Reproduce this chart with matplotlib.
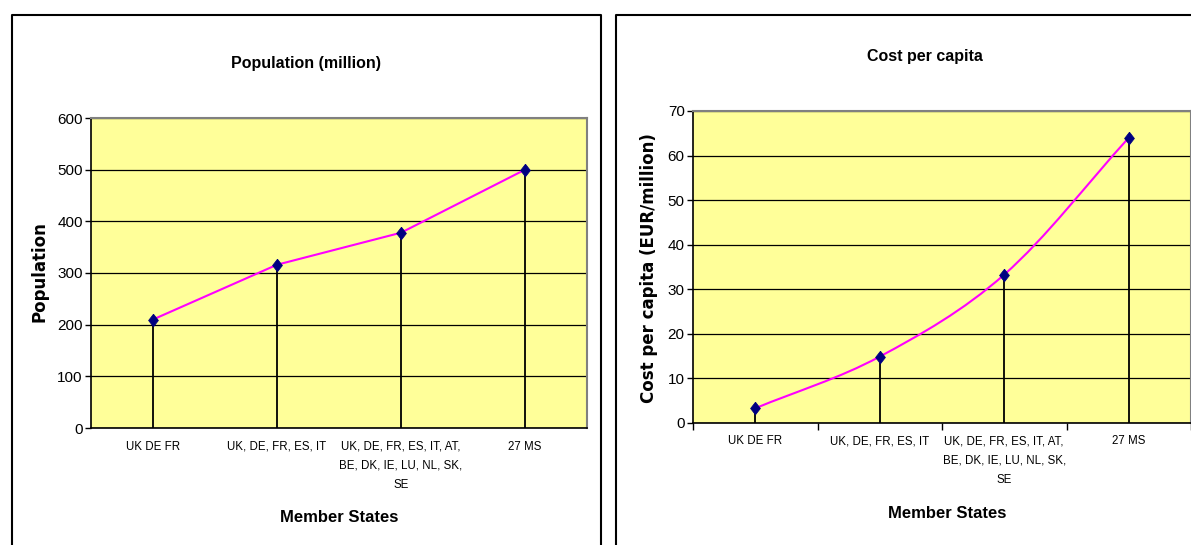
import matplotlib
matplotlib.use('Agg')
import matplotlib.pyplot as plt
from matplotlib.path import Path
from matplotlib.patches import PathPatch
from matplotlib.lines import Line2D
import numpy as np

W, H = 1191, 545

categories = ['UK DE FR', 'UK, DE, FR, ES, IT',
              'UK, DE, FR, ES, IT, AT,\nBE, DK, IE, LU, NL, SK,\nSE', '27 MS']
population = [210, 316, 378, 500]
cost_per_capita = [3.3, 14.9, 33.3, 64.0]
pop_ticks = [0, 100, 200, 300, 400, 500, 600]
cost_ticks = [0, 10, 20, 30, 40, 50, 60, 70]

NARROW = ['Liberation Sans Narrow', 'Liberation Sans', 'DejaVu Sans']
WIDE = ['DejaVu Sans']
YELLOW = '#FFFF99'
MAGENTA = '#FF00FF'
NAVY = '#000080'
DIAMOND = [(0, 1), (0.78, 0), (0, -1), (-0.78, 0), (0, 1)]


def fx(px):
    return px / W


def fy(py):
    return 1 - py / H


def smooth_path(xs, ys):
    # Excel-like smoothed line: cubic bezier through the points
    pts = np.column_stack([xs, ys]).astype(float)
    n = len(pts)
    tang = np.zeros_like(pts)
    for i in range(n):
        prev = pts[max(i - 1, 0)]
        nxt = pts[min(i + 1, n - 1)]
        tang[i] = (nxt - prev) / (2 if 0 < i < n - 1 else 1)
    verts = [pts[0]]
    codes = [Path.MOVETO]
    for i in range(n - 1):
        verts += [pts[i] + tang[i] / 3, pts[i + 1] - tang[i + 1] / 3, pts[i + 1]]
        codes += [Path.CURVE4] * 3
    return Path(verts, codes)


def style_axes(ax, ticks, boundary_ticks):
    ax.set_facecolor(YELLOW)
    ax.set_xlim(-0.5, len(categories) - 0.5)
    ax.set_ylim(ticks[0], ticks[-1])
    ax.set_yticks(ticks)
    ax.set_yticklabels([str(t) for t in ticks], family=NARROW, fontsize=11)
    ax.set_xticks(range(len(categories)))
    ax.set_xticklabels(categories, family=NARROW, fontsize=8.3, linespacing=1.8)
    ax.tick_params(axis='x', length=0, pad=9)
    ax.tick_params(axis='y', length=4, width=1, pad=2, direction='out')
    if boundary_ticks:
        ax.set_xticks(np.arange(-0.5, len(categories), 1.0), minor=True)
        ax.tick_params(axis='x', which='minor', length=5, width=1, direction='out')
    ax.yaxis.grid(True, color='black', linewidth=0.9)
    ax.set_axisbelow(True)
    for side in ['left', 'bottom']:
        ax.spines[side].set_color('black')
        ax.spines[side].set_linewidth(1.2)
    for side in ['top', 'right']:
        ax.spines[side].set_color('#808080')
        ax.spines[side].set_linewidth(1.5)


fig = plt.figure(figsize=(W / 100, H / 100), dpi=100)

# chart frames
fig.add_artist(Line2D([fx(12), fx(12), fx(601), fx(601)], [0, fy(15), fy(15), 0],
                      color='black', linewidth=1.5))
fig.add_artist(Line2D([fx(616), fx(616), 1.0], [0, fy(15), fy(15)],
                      color='black', linewidth=1.5))

x = np.arange(len(categories))

# left chart: population
ax1 = fig.add_axes([fx(91), fy(428), fx(587 - 91), (428 - 118) / H])
style_axes(ax1, pop_ticks, False)
ax1.vlines(x, 0, population, color='black', linewidth=1.3, zorder=3)
ax1.plot(x, population, color=MAGENTA, linewidth=1.5, zorder=4)
ax1.plot(x, population, linestyle='none', marker=DIAMOND, markersize=9,
         markeredgewidth=0.6, color=NAVY, zorder=5)

fig.text(fx(306), fy(63), 'Population (million)', ha='center', va='center',
         family=NARROW, fontsize=11.5, fontweight='bold')
fig.text(fx(40), fy(272), 'Population', ha='center', va='center', rotation=90,
         family=WIDE, fontsize=12, fontweight='bold')
fig.text(fx(339), fy(517), 'Member States', ha='center', va='center',
         family=NARROW, fontsize=12, fontweight='bold')

# right chart: cost per capita
ax2 = fig.add_axes([fx(693), fy(423), fx(498), (423 - 111) / H])
style_axes(ax2, cost_ticks, True)
ax2.vlines(x, 0, cost_per_capita, color='black', linewidth=1.3, zorder=3)
ax2.add_patch(PathPatch(smooth_path(x, cost_per_capita), facecolor='none',
                        edgecolor=MAGENTA, linewidth=1.5, zorder=4))
ax2.plot(x, cost_per_capita, linestyle='none', marker=DIAMOND, markersize=9,
         markeredgewidth=0.6, color=NAVY, zorder=5)

fig.text(fx(925), fy(57), 'Cost per capita', ha='center', va='center',
         family=NARROW, fontsize=11.5, fontweight='bold')
fig.text(fx(649), fy(268), 'Cost per capita (EUR/million)', ha='center', va='center',
         rotation=90, family=WIDE, fontsize=12, fontweight='bold')
fig.text(fx(947), fy(513), 'Member States', ha='center', va='center',
         family=NARROW, fontsize=12, fontweight='bold')

fig.savefig('out.png', dpi=100)
